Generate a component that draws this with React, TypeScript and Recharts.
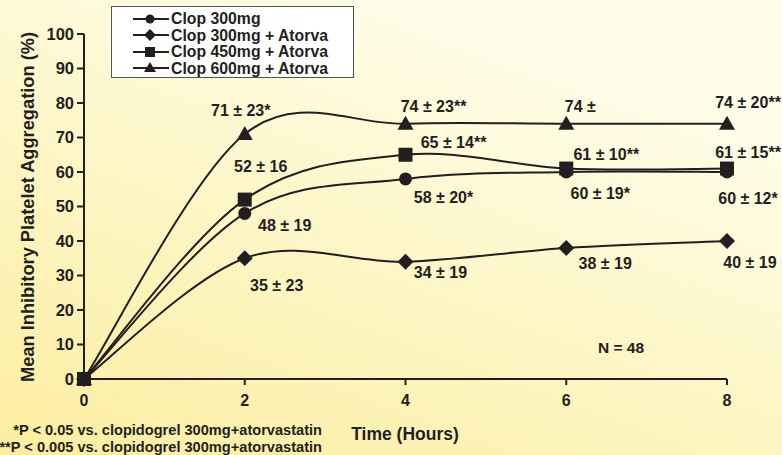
import React from "react";
import { LabelList, Line, LineChart, XAxis, YAxis } from "recharts";

const hours = [0, 2, 4, 6, 8];
const xTicks = [0, 2, 4, 6, 8];
const yTicks = [0, 10, 20, 30, 40, 50, 60, 70, 80, 90, 100];

const clop300 = [0, 48, 58, 60, 60];
const clop300Atorva = [0, 35, 34, 38, 40];
const clop450Atorva = [0, 52, 65, 61, 61];
const clop600Atorva = [0, 71, 74, 74, 74];

const clop300Labels = ["", "48 ± 19", "58 ± 20*", "60 ± 19*", "60 ± 12*"];
const clop300AtorvaLabels = ["", "35 ± 23", "34 ± 19", "38 ± 19", "40 ± 19"];
const clop450AtorvaLabels = ["", "52 ± 16", "65 ± 14**", "61 ± 10**", "61 ± 15**"];
const clop600AtorvaLabels = ["", "71 ± 23*", "74 ± 23**", "74 ±", "74 ± 20**"];

const INK = "#231f20";
const FONT = "'Liberation Sans', Arial, sans-serif";

// label offsets from each point (layout only)
const OFFSETS: Record<string, [number, number][]> = {
  c300: [[0, 0], [40, 12], [38, 19], [34, 21], [21, 26]],
  c300a: [[0, 0], [32, 27], [35, 11], [39, 16], [23, 21]],
  c450a: [[0, 0], [16, -33], [48, -12], [40, -14], [21, -16]],
  c600a: [[0, 0], [-4, -24], [28, -17], [14, -17], [21, -21]],
};

const data = hours.map((hour, i) => ({
  hour,
  c300: clop300[i],
  c300a: clop300Atorva[i],
  c450a: clop450Atorva[i],
  c600a: clop600Atorva[i],
  c300Label: clop300Labels[i],
  c300aLabel: clop300AtorvaLabels[i],
  c450aLabel: clop450AtorvaLabels[i],
  c600aLabel: clop600AtorvaLabels[i],
}));

// catmull-rom style curve, passes through every point
const smoothCurve = (context: any) => {
  let pts: number[][] = [];
  return {
    areaStart() {},
    areaEnd() {},
    lineStart() {
      pts = [];
    },
    point(x: number, y: number) {
      pts.push([+x, +y]);
    },
    lineEnd() {
      if (!pts.length) return;
      context.moveTo(pts[0][0], pts[0][1]);
      for (let i = 0; i < pts.length - 1; i++) {
        const p0 = pts[Math.max(i - 1, 0)];
        const p1 = pts[i];
        const p2 = pts[i + 1];
        const p3 = pts[Math.min(i + 2, pts.length - 1)];
        context.bezierCurveTo(
          p1[0] + (p2[0] - p0[0]) / 6,
          p1[1] + (p2[1] - p0[1]) / 6,
          p2[0] - (p3[0] - p1[0]) / 6,
          p2[1] - (p3[1] - p1[1]) / 6,
          p2[0],
          p2[1]
        );
      }
    },
  };
};

type Shape = "circle" | "diamond" | "square" | "triangle";

function Marker({ shape, cx, cy, s = 7 }: { shape: Shape; cx: number; cy: number; s?: number }) {
  if (shape === "circle") return <circle cx={cx} cy={cy} r={s - 0.5} fill={INK} />;
  if (shape === "square") return <rect x={cx - s} y={cy - s} width={s * 2} height={s * 2} fill={INK} />;
  if (shape === "diamond") {
    const d = s + 1;
    return <polygon points={`${cx},${cy - d} ${cx + d},${cy} ${cx},${cy + d} ${cx - d},${cy}`} fill={INK} />;
  }
  return <polygon points={`${cx},${cy - s - 1} ${cx + s + 1},${cy + s - 1} ${cx - s - 1},${cy + s - 1}`} fill={INK} />;
}

const makeDot = (shape: Shape, key: string) => (p: any) =>
  <Marker key={`${key}-${p.index}`} shape={shape} cx={p.cx} cy={p.cy} />;

const makeLabel = (key: string) => (p: any) => {
  if (!p.value) return null;
  const [dx, dy] = OFFSETS[key][p.index] || [0, 0];
  return (
    <text
      key={`${key}-label-${p.index}`}
      x={p.x + dx}
      y={p.y + dy}
      textAnchor="middle"
      dominantBaseline="central"
      fontFamily={FONT}
      fontWeight="bold"
      fontSize={16}
      fill={INK}
    >
      {p.value}
    </text>
  );
};

const SERIES: { key: string; name: string; shape: Shape }[] = [
  { key: "c600a", name: "Clop 600mg + Atorva", shape: "triangle" },
  { key: "c300", name: "Clop 300mg", shape: "circle" },
  { key: "c300a", name: "Clop 300mg + Atorva", shape: "diamond" },
  { key: "c450a", name: "Clop 450mg + Atorva", shape: "square" },
];

const LEGEND_ORDER = ["c300", "c300a", "c450a", "c600a"];

export default function App() {
  return (
    <div
      style={{
        position: "relative",
        width: 782,
        height: 455,
        overflow: "hidden",
        background: "linear-gradient(20deg, #fbeea0 0%, #fdf5c2 40%, #fffde8 80%)",
        fontFamily: FONT,
      }}
    >
      <style>{`body{margin:0}`}</style>
      <LineChart width={782} height={455} data={data} margin={{ top: 34, right: 55, left: 24, bottom: 46 }}>
        <XAxis
          dataKey="hour"
          type="number"
          domain={[0, 8]}
          ticks={xTicks}
          height={30}
          tickSize={6}
          tickMargin={10}
          stroke={INK}
          strokeWidth={2}
          tick={{ fill: INK, fontSize: 16, fontWeight: "bold", fontFamily: FONT }}
        />
        <YAxis
          type="number"
          domain={[0, 100]}
          ticks={yTicks}
          width={60}
          tickSize={7}
          tickMargin={3}
          stroke={INK}
          strokeWidth={2}
          tick={{ fill: INK, fontSize: 16.5, fontWeight: "bold", fontFamily: FONT }}
        />
        {SERIES.map((s) => (
          <Line
            key={s.key}
            dataKey={s.key}
            name={s.name}
            type={smoothCurve as any}
            stroke={INK}
            strokeWidth={2}
            dot={makeDot(s.shape, s.key)}
            activeDot={false}
            isAnimationActive={false}
          >
            <LabelList dataKey={`${s.key}Label`} content={makeLabel(s.key)} />
          </Line>
        ))}
      </LineChart>

      <div
        style={{
          position: "absolute",
          left: 111,
          top: 6,
          width: 241,
          height: 70,
          background: "#fff",
          border: "1px solid #555",
          boxSizing: "content-box",
        }}
      >
        {LEGEND_ORDER.map((k, i) => {
          const s = SERIES.find((x) => x.key === k)!;
          return (
            <div
              key={k}
              style={{ position: "absolute", left: 20, top: 3 + i * 16.5, height: 17, display: "flex", alignItems: "center" }}
            >
              <svg width={38} height={16}>
                <line x1={1} y1={8} x2={37} y2={8} stroke={INK} strokeWidth={2} />
                <Marker shape={s.shape} cx={18} cy={8} s={5} />
              </svg>
              <span style={{ fontSize: 15.8, fontWeight: "bold", color: INK, marginLeft: 1, lineHeight: "17px" }}>{s.name}</span>
            </div>
          );
        })}
      </div>

      <svg width={782} height={455} style={{ position: "absolute", left: 0, top: 0, pointerEvents: "none" }}>
        <text
          x={28}
          y={207}
          transform="rotate(-90 28 207)"
          textAnchor="middle"
          dominantBaseline="central"
          fontFamily={FONT}
          fontWeight="bold"
          fontSize={17.5}
          fill={INK}
          textLength={350}
          lengthAdjust="spacingAndGlyphs"
        >
          Mean Inhibitory Platelet Aggregation (%)
        </text>
        <text x={405} y={434} textAnchor="middle" dominantBaseline="central" fontFamily={FONT} fontWeight="bold" fontSize={17.5} fill={INK}>
          Time (Hours)
        </text>
        <text x={322} y={430} textAnchor="end" dominantBaseline="central" fontFamily={FONT} fontWeight="bold" fontSize={14.6} fill={INK}>
          *P &lt; 0.05 vs. clopidogrel 300mg+atorvastatin
        </text>
        <text x={322} y={447} textAnchor="end" dominantBaseline="central" fontFamily={FONT} fontWeight="bold" fontSize={14.6} fill={INK}>
          **P &lt; 0.005 vs. clopidogrel 300mg+atorvastatin
        </text>
        <text x={621} y={347} textAnchor="middle" dominantBaseline="central" fontFamily={FONT} fontWeight="bold" fontSize={15.5} fill={INK}>
          N = 48
        </text>
      </svg>
    </div>
  );
}
